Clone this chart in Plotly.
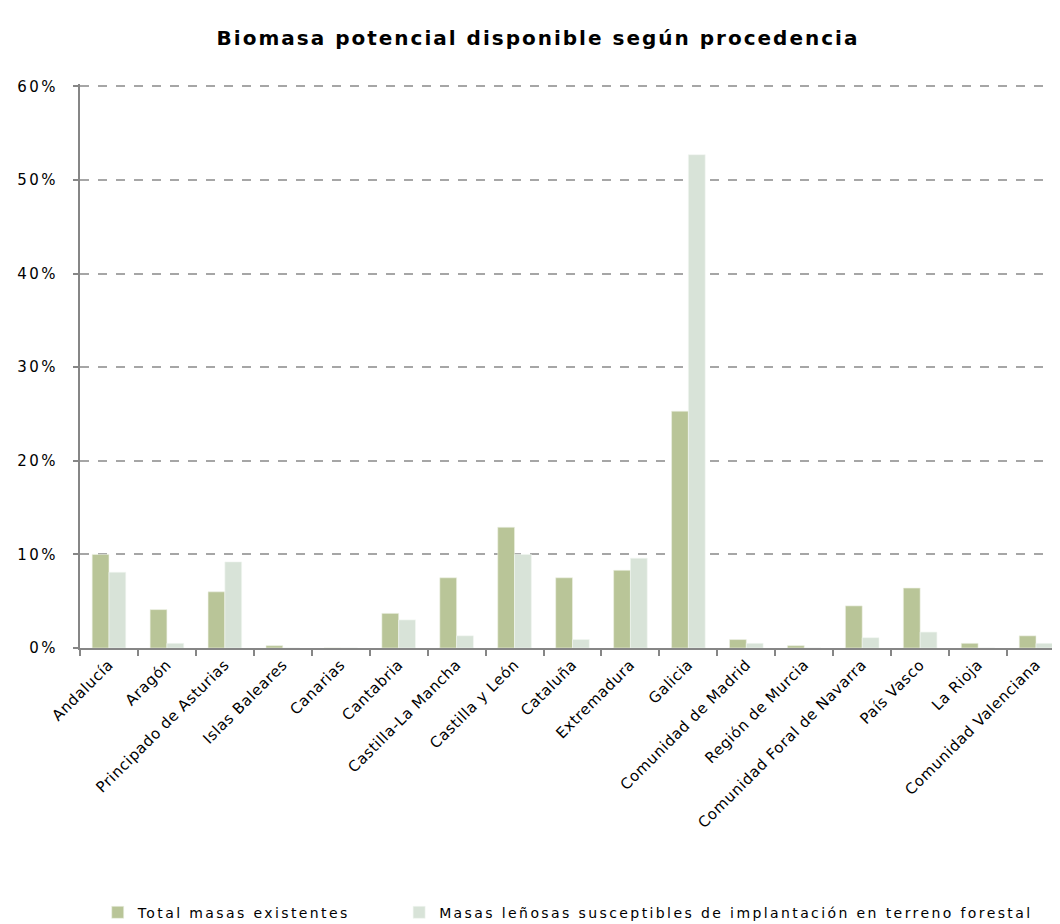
import plotly.graph_objects as go

categorias = ["Andalucía", "Aragón", "Principado de Asturias", "Islas Baleares", "Canarias",
              "Cantabria", "Castilla-La Mancha", "Castilla y León", "Cataluña", "Extremadura",
              "Galicia", "Comunidad de Madrid", "Región de Murcia", "Comunidad Foral de Navarra",
              "País Vasco", "La Rioja", "Comunidad Valenciana"]
total_masas = [10.0, 4.1, 6.0, 0.25, 0.0, 3.7, 7.5, 12.9, 7.5, 8.3, 25.3, 0.9, 0.25, 4.5, 6.4, 0.5, 1.3]
masas_lenosas = [8.1, 0.5, 9.2, 0.0, 0.0, 3.0, 1.3, 10.0, 0.9, 9.6, 52.7, 0.5, 0.0, 1.1, 1.7, 0.0, 0.5]
nombres = ["Total masas existentes", "Masas leñosas susceptibles de implantación en terreno forestal"]
titulo = "Biomasa potencial disponible según procedencia"
y_ticks = [0, 10, 20, 30, 40, 50, 60]
y_ticktext = ["0%", "10%", "20%", "30%", "40%", "50%", "60%"]

FONT = "DejaVu Sans"


def sp(txt, ls):
    return f'<span style="letter-spacing:{ls}px">{txt}</span>'


fig = go.Figure()
fig.add_trace(go.Bar(x=categorias, y=total_masas, name=sp(nombres[0], 2.4), legend="legend",
                     marker=dict(color="#b9c598", line=dict(color="#eef2e6", width=0.6))))
fig.add_trace(go.Bar(x=categorias, y=masas_lenosas, name=sp(nombres[1], 2.4), legend="legend2",
                     marker=dict(color="#d8e3d8", line=dict(color="#f2f6f1", width=0.6))))

leg_common = dict(orientation="h", yanchor="top", y=-0.441, xanchor="left",
                  font=dict(family=FONT, size=14, color="black"),
                  bgcolor="rgba(0,0,0,0)", itemwidth=30)

fig.update_layout(
    width=1060, height=924,
    margin=dict(l=72, r=3, t=76, b=274),
    paper_bgcolor="white", plot_bgcolor="white",
    bargap=0.42, bargroupgap=0,
    title=dict(text="<b>" + sp(titulo, 2.0) + "</b>",
               x=0.5, xanchor="center", y=0.967, yanchor="middle",
               font=dict(family=FONT, size=20, color="black")),
    font=dict(family=FONT, size=14, color="black"),
    showlegend=True,
    legend=dict(x=0.018, **leg_common),
    legend2=dict(x=0.324, **leg_common),
)
fig.update_xaxes(
    type="category", showline=True, linecolor="#868686", linewidth=2,
    ticks="outside", tickson="boundaries", ticklen=6, tickwidth=2, tickcolor="#868686",
    tickangle=-45, tickfont=dict(family=FONT, size=15, color="black"),
    tickvals=categorias, ticktext=[sp(c, 0.6) for c in categorias],
    showgrid=False, range=[-0.5, 16.5],
)
fig.update_yaxes(
    range=[0, 60.25], tickvals=y_ticks, ticktext=[sp(t, 2.5) for t in y_ticktext],
    showline=True, linecolor="#868686", linewidth=2,
    ticks="outside", ticklen=5, tickwidth=2, tickcolor="#868686",
    tickfont=dict(family=FONT, size=15, color="black"),
    showgrid=True, gridcolor="#a6a6a6", griddash="dash", gridwidth=1.5,
    zeroline=False, ticklabelstandoff=12,
)

fig.write_html("out.html")
